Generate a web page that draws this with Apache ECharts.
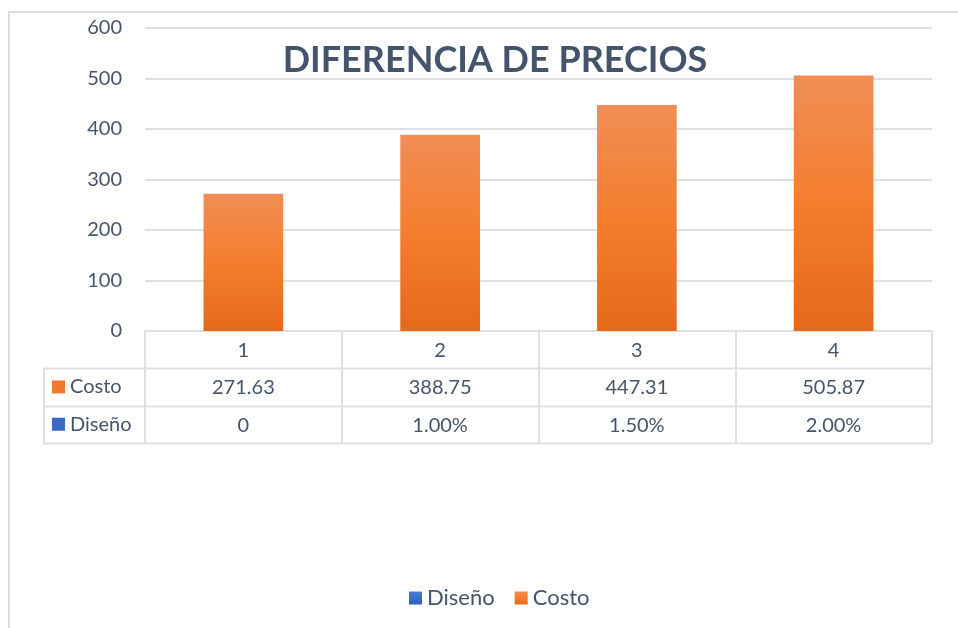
<!DOCTYPE html>
<html>
<head>
<meta charset="utf-8">
<style>
  html, body { margin: 0; padding: 0; background: #fff; }
  #main { width: 958px; height: 628px; }
</style>
<script src="https://cdn.jsdelivr.net/npm/echarts@6/dist/echarts.min.js"></script>
</head>
<body>
<div id="main"></div>
<script>
let categories = ['1', '2', '3', '4'];
let costo = [271.63, 388.75, 447.31, 505.87];
let diseno = [0, 0.01, 0.015, 0.02];
let yTicks = [0, 100, 200, 300, 400, 500, 600];

let dom = document.getElementById('main');
let myChart = echarts.init(dom);

let textColor = '#44546A';
let lineColor = '#DDE1E6';
let font = 'Lato';
let orange = new echarts.graphic.LinearGradient(0, 0, 0, 1, [
    { offset: 0, color: '#F18D55' },
    { offset: 0.5, color: '#F47E2E' },
    { offset: 1, color: '#E4691B' }
]);
let blue = new echarts.graphic.LinearGradient(0, 0, 0, 1, [
    { offset: 0, color: '#4D7DD2' },
    { offset: 1, color: '#2E5DB5' }
]);

// plot area in pixels
let gLeft = 145, gRight = 932, gBottom = 331;
let rowH = 37.3;

function disenoLabel(v) {
    return v === 0 ? '0' : (v * 100).toFixed(2) + '%';
}

let tableLines = [];
for (let r = 1; r <= 3; r++) {
    let y = Math.round(gBottom + rowH * r) + 0.5;
    tableLines.push({
        type: 'line',
        shape: { x1: 44, y1: y, x2: gRight, y2: y },
        style: { stroke: lineColor, lineWidth: 2 }
    });
}
tableLines.push({
    type: 'line',
    shape: { x1: 44, y1: Math.round(gBottom + rowH), x2: 44, y2: Math.round(gBottom + rowH * 3) + 1 },
    style: { stroke: lineColor, lineWidth: 2 }
});

let rowNames = [['Costo', '#EE7A30'], ['Diseño', '#3A69C2']];
rowNames.forEach(function (r, i) {
    let cy = gBottom + rowH * (i + 1.5);
    tableLines.push({
        type: 'rect',
        shape: { x: 52, y: cy - 6.5, width: 13, height: 13 },
        style: { fill: r[1] }
    });
    tableLines.push({
        type: 'text',
        x: 70, y: cy,
        style: { text: r[0], fill: textColor, font: '20px ' + font, textVerticalAlign: 'middle' }
    });
});

option = {
    backgroundColor: '#fff',
    title: {
        text: 'DIFERENCIA DE PRECIOS',
        left: 490,
        textAlign: 'center',
        top: 37,
        textStyle: {
            fontFamily: font,
            fontSize: 36,
            fontWeight: 'bold',
            color: textColor
        }
    },
    legend: {
        bottom: 14,
        left: 404,
        icon: 'rect',
        itemWidth: 13,
        itemHeight: 13,
        itemGap: 20,
        data: [
            { name: 'Diseño', itemStyle: { color: blue } },
            { name: 'Costo', itemStyle: { color: orange } }
        ],
        textStyle: { fontFamily: font, fontSize: 22, color: textColor }
    },
    grid: {
        left: gLeft,
        right: 958 - gRight,
        top: 28,
        bottom: 628 - gBottom
    },
    xAxis: {
        type: 'category',
        data: categories,
        axisLine: { lineStyle: { color: lineColor, width: 2 } },
        axisTick: { show: true, length: Math.round(rowH * 3), lineStyle: { color: lineColor, width: 2 } },
        axisLabel: {
            margin: 1,
            lineHeight: rowH,
            fontFamily: font,
            fontSize: 20,
            color: textColor,
            formatter: function (v, i) {
                return v + '\n' + costo[i].toFixed(2) + '\n' + disenoLabel(diseno[i]);
            }
        }
    },
    yAxis: {
        type: 'value',
        min: yTicks[0],
        max: yTicks[yTicks.length - 1],
        interval: 100,
        axisLine: { show: false },
        axisTick: { show: false },
        axisLabel: { margin: 23, fontFamily: font, fontSize: 20, color: textColor },
        splitLine: { lineStyle: { color: lineColor, width: 2 } }
    },
    series: [
        {
            name: 'Diseño',
            type: 'bar',
            data: diseno,
            barWidth: '40.5%',
            itemStyle: { color: blue }
        },
        {
            name: 'Costo',
            type: 'bar',
            data: costo,
            barWidth: '40.5%',
            barGap: '-100%',
            itemStyle: { color: orange }
        }
    ],
    graphic: [
        {
            type: 'rect',
            shape: { x: 9, y: 12, width: 1000, height: 700 },
            style: { fill: null, stroke: '#D9DDE3', lineWidth: 2 },
            silent: true
        }
    ].concat(tableLines)
};

if (option && typeof option === 'object') {
    myChart.setOption(option, true);
    window.addEventListener('resize', function () {
        myChart.resize();
    });
}
</script>
</body>
</html>
